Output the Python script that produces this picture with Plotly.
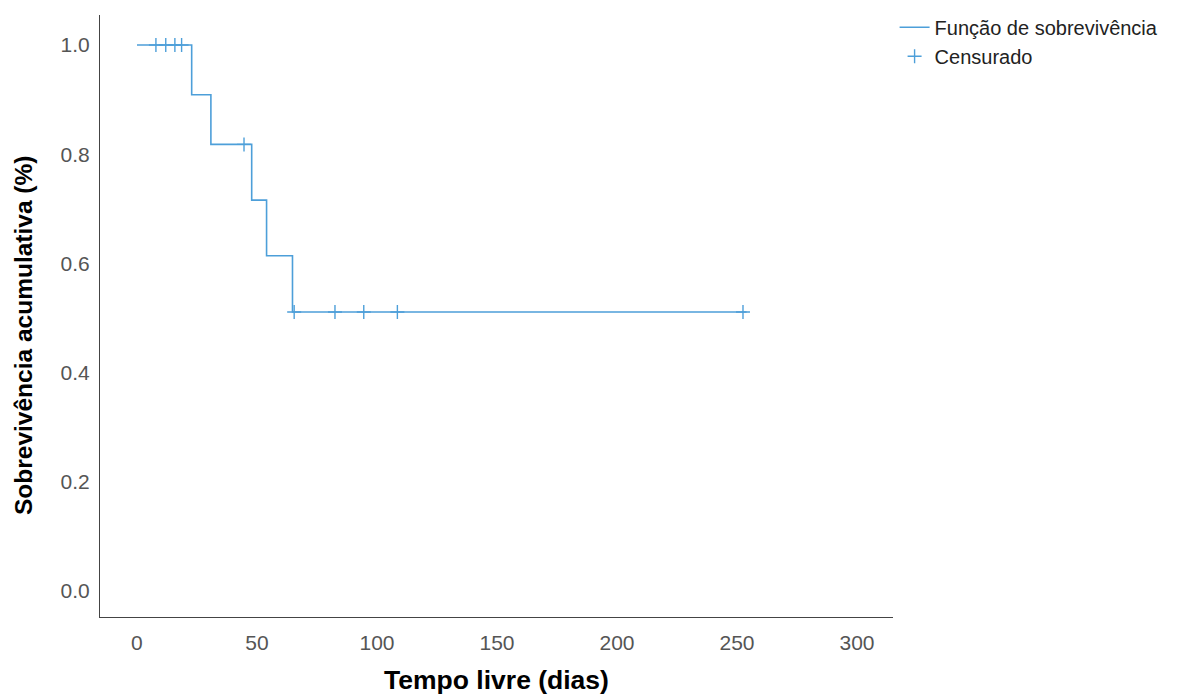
import plotly.graph_objects as go

# Kaplan-Meier step curve (time in days, cumulative survival)
step_times = [0, 22.8, 30.8, 47.8, 54.0, 64.8, 254]
step_surv = [1.0, 0.909, 0.818, 0.716, 0.614, 0.511, 0.511]

# Censored observations
cens_times = [7.9, 12.0, 15.8, 18.6, 44.6, 65.5, 82.5, 94.5, 108.5, 252.5]
cens_surv = [1.0, 1.0, 1.0, 1.0, 0.818, 0.511, 0.511, 0.511, 0.511, 0.511]

x_ticks = [0, 50, 100, 150, 200, 250, 300]
y_ticks = [0.0, 0.2, 0.4, 0.6, 0.8, 1.0]

color = "#4d9fd9"
fam = "Liberation Sans, Arial, sans-serif"

fig = go.Figure()
fig.add_trace(go.Scatter(
    x=step_times, y=step_surv, mode="lines", line=dict(shape="hv", color=color, width=1.6),
    name="Função de sobrevivência"))
fig.add_trace(go.Scatter(
    x=cens_times, y=cens_surv, mode="markers",
    marker=dict(symbol="cross-thin", size=10, line=dict(color=color, width=1.4), color=color),
    name="Censurado"))

axis_font = dict(family=fam, size=21, color="#555555")
fig.update_layout(
    width=1183, height=698,
    margin=dict(l=92, r=298, t=7, b=89, autoexpand=False),
    paper_bgcolor="white", plot_bgcolor="white",
    font=dict(family=fam, color="#222222"),
    legend=dict(x=1.002, y=1.012, xanchor="left", yanchor="top",
                font=dict(size=20, color="#222222"), bgcolor="rgba(0,0,0,0)",
                tracegroupgap=0, itemwidth=30),
    xaxis=dict(range=[-15.4, 315], tickvals=x_ticks, ticktext=[str(v) for v in x_ticks],
               showgrid=False, zeroline=False, showline=True, linecolor="#444444", linewidth=1,
               ticks="", tickfont=axis_font, ticklabelstandoff=7, automargin=False,
               title=dict(text="<b>Tempo livre (dias)</b>", font=dict(size=26.5, color="#000000"), standoff=17)),
    yaxis=dict(range=[-0.0476, 1.055], tickvals=y_ticks, ticktext=[f"{v:.1f}" for v in y_ticks],
               showgrid=False, zeroline=False, showline=True, linecolor="#444444", linewidth=1,
               ticks="", tickfont=axis_font, ticklabelstandoff=5, automargin=False),
    annotations=[dict(text="<b>Sobrevivência acumulativa (%)</b>", textangle=-90,
                      xref="paper", yref="paper", x=-0.0958, y=0.4668,
                      xanchor="center", yanchor="middle", showarrow=False,
                      font=dict(size=24.5, color="#000000"))],
)

fig.write_html("out.html")
